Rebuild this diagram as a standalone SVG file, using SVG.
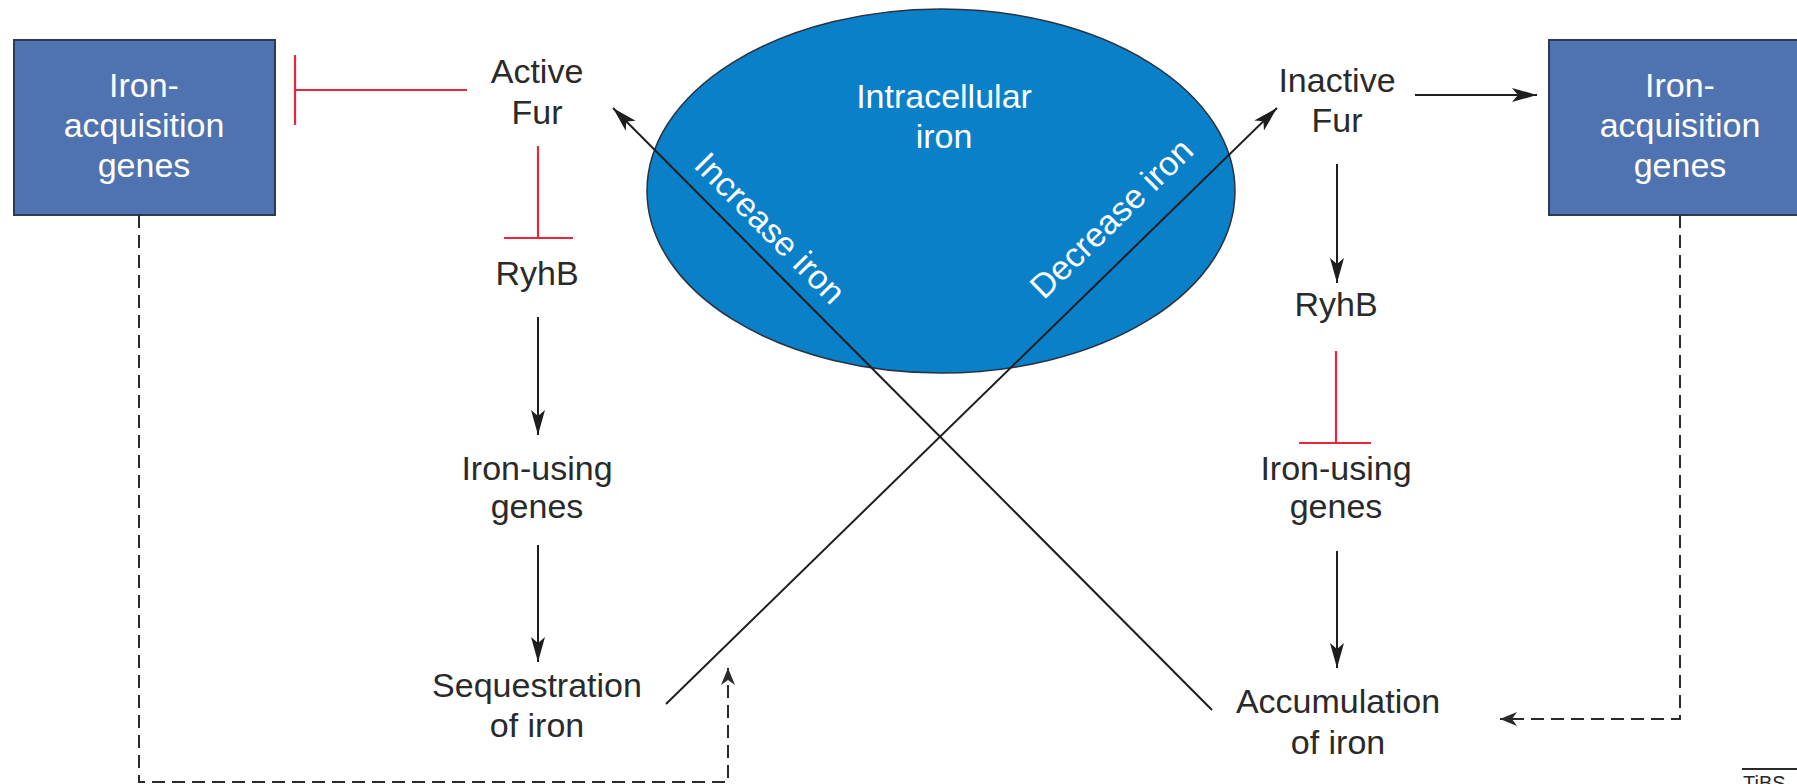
<svg xmlns="http://www.w3.org/2000/svg" width="1797" height="784" viewBox="0 0 1797 784">
  <style>
    .t { font-family: "Liberation Sans", Arial, sans-serif; font-size: 34px; fill: #2a2a2a; text-anchor: middle; }
    .w { font-family: "Liberation Sans", Arial, sans-serif; font-size: 34px; fill: #ffffff; text-anchor: middle; }
    .box { fill: #4f72b0; stroke: #2b3a55; stroke-width: 2; }
    .blk { stroke: #1e1e1e; stroke-width: 2; fill: none; }
    .red { stroke: #e8283a; stroke-width: 2.2; fill: none; }
    .dash { stroke: #2a2a2a; stroke-width: 2; fill: none; stroke-dasharray: 13 7; }
  </style>
  <defs>
    <marker id="arr" markerUnits="userSpaceOnUse" markerWidth="30" markerHeight="20" viewBox="-26 -10 30 20" refX="0" refY="0" orient="auto">
      <path d="M0 0 L-25 -7 L-19 0 L-25 7 Z" fill="#1e1e1e"/>
    </marker>
    <marker id="arrd" markerUnits="userSpaceOnUse" markerWidth="24" markerHeight="20" viewBox="-20 -10 24 20" refX="0" refY="0" orient="auto">
      <path d="M0 0 L-17 -7 L-12 0 L-17 7 Z" fill="#2a2a2a"/>
    </marker>
  </defs>
  <rect width="1797" height="784" fill="#ffffff"/>

  <g id="intracellular-iron">
    <ellipse cx="941" cy="191" rx="294" ry="182" fill="#0a80c9" stroke="#2a3340" stroke-width="1.5"/>
    <text class="w" x="944" y="108">Intracellular</text>
    <text class="w" x="944" y="148">iron</text>
  </g>

  <g id="iron-acquisition-left">
    <rect class="box" x="14" y="40" width="261" height="175"/>
    <text class="w" x="144" y="97">Iron-</text>
    <text class="w" x="144" y="137">acquisition</text>
    <text class="w" x="144" y="177">genes</text>
  </g>

  <g id="iron-acquisition-right">
    <rect class="box" x="1549" y="40" width="262" height="175"/>
    <text class="w" x="1680" y="97">Iron-</text>
    <text class="w" x="1680" y="137">acquisition</text>
    <text class="w" x="1680" y="177">genes</text>
  </g>

  <g id="active-fur">
    <text class="t" x="537" y="83">Active</text>
    <text class="t" x="537" y="124">Fur</text>
  </g>
  <g id="ryhb-left">
    <text class="t" x="537" y="285">RyhB</text>
  </g>
  <g id="iron-using-left">
    <text class="t" x="537" y="480">Iron-using</text>
    <text class="t" x="537" y="518">genes</text>
  </g>
  <g id="sequestration">
    <text class="t" x="537" y="697">Sequestration</text>
    <text class="t" x="537" y="737">of iron</text>
  </g>

  <g id="inactive-fur">
    <text class="t" x="1337" y="92">Inactive</text>
    <text class="t" x="1337" y="132">Fur</text>
  </g>
  <g id="ryhb-right">
    <text class="t" x="1336" y="316">RyhB</text>
  </g>
  <g id="iron-using-right">
    <text class="t" x="1336" y="480">Iron-using</text>
    <text class="t" x="1336" y="518">genes</text>
  </g>
  <g id="accumulation">
    <text class="t" x="1338" y="713">Accumulation</text>
    <text class="t" x="1338" y="754">of iron</text>
  </g>

  <g id="connectors">
    <!-- left column -->
    <path class="red" d="M467 90 H295 M295 55 V125"/>
    <path class="red" d="M538 146 V238 M504 238 H573"/>
    <path class="blk" d="M538 317 V435" marker-end="url(#arr)"/>
    <path class="blk" d="M538 545 V662" marker-end="url(#arr)"/>
    <!-- right column -->
    <path class="blk" d="M1415 95 H1537" marker-end="url(#arr)"/>
    <path class="blk" d="M1337 164 V283" marker-end="url(#arr)"/>
    <path class="red" d="M1336 351 V443 M1299 443 H1371"/>
    <path class="blk" d="M1337 551 V668" marker-end="url(#arr)"/>
    <!-- dashed feedback -->
    <path class="dash" d="M139 215 V782 H728 V668" marker-end="url(#arrd)"/>
    <path class="dash" d="M1680 215 V719 H1500" marker-end="url(#arrd)"/>
    <!-- diagonals -->
    <path class="blk" d="M1212 710 L613 108" marker-end="url(#arr)"/>
    <path class="blk" d="M666 704 L1277 108" marker-end="url(#arr)"/>
    <text class="w" transform="translate(751.2 246.9) rotate(45.2)" x="0" y="-15">Increase iron</text>
    <text class="w" transform="translate(1137 244.6) rotate(-44.3)" x="0" y="-25">Decrease iron</text>
  </g>

  <g id="credit">
    <line x1="1742" y1="769" x2="1797" y2="769" stroke="#2a2a2a" stroke-width="2"/>
    <text x="1743" y="790" font-family="Liberation Sans, Arial, sans-serif" font-size="20" fill="#2a2a2a">TiBS</text>
  </g>
</svg>
